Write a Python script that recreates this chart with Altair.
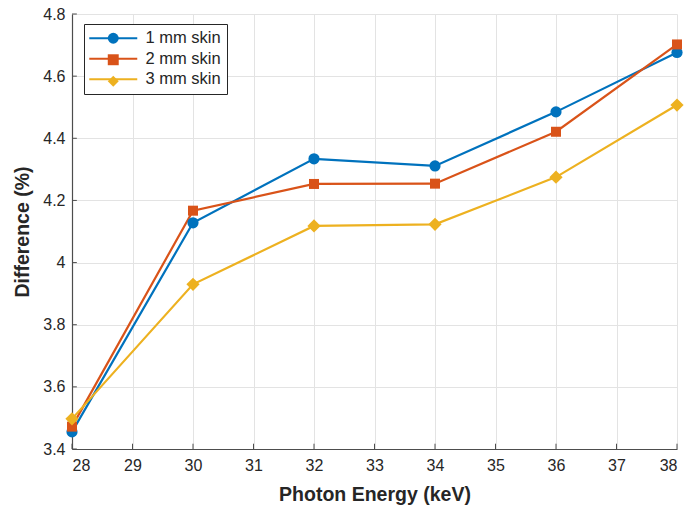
import altair as alt
import pandas as pd

energy = [28, 30, 32, 34, 36, 38]
skin1 = [3.455, 4.128, 4.334, 4.311, 4.485, 4.676]
skin2 = [3.472, 4.167, 4.253, 4.254, 4.421, 4.702]
skin3 = [3.497, 3.930, 4.118, 4.123, 4.275, 4.507]
series = ["1 mm skin", "2 mm skin", "3 mm skin"]
colors = ["#0072BD", "#D95319", "#EDB120"]
shapes = ["circle", "square", "diamond"]
marker_sizes = [125, 100, 175]
x_ticks = list(range(28, 39))
y_ticks = [3.4, 3.6, 3.8, 4.0, 4.2, 4.4, 4.6, 4.8]

rows = []
for name, vals, ms in zip(series, [skin1, skin2, skin3], marker_sizes):
    for e, v in zip(energy, vals):
        rows.append({"energy": e, "diff": v, "series": name, "series_pt": name, "msize": ms})
df = pd.DataFrame(rows)

FONT = "Liberation Sans"
xs = alt.Scale(domain=[28, 38], nice=False)
ys = alt.Scale(domain=[3.4, 4.8], nice=False)

x_enc = alt.X("energy:Q", scale=xs, title="Photon Energy (keV)",
              axis=alt.Axis(values=x_ticks, format="d", labelFontSize=16, titleFontSize=19.5,
                            titleFontWeight="bold", labelColor="#262626", titleColor="#262626",
                            domainColor="#4d4d4d", tickSize=0, labelPadding=8, titlePadding=12,
                            gridColor="#e3e3e3", labelFont=FONT, titleFont=FONT))
y_enc = alt.Y("diff:Q", scale=ys, title="Difference (%)",
              axis=alt.Axis(values=y_ticks, labelExpr="datum.value == 4 ? '4' : format(datum.value, '.1f')",
                            labelFontSize=16, titleFontSize=19.5, titleFontWeight="bold",
                            labelColor="#262626", titleColor="#262626", domainColor="#4d4d4d",
                            tickSize=0, labelPadding=7, titlePadding=10, gridColor="#e3e3e3",
                            labelFont=FONT, titleFont=FONT))

common = dict(title=None, orient="none", legendX=12, legendY=10, labelFontSize=16.5,
              labelFont=FONT, padding=6, rowPadding=3.5, labelOffset=24, symbolOffset=15)

lines = alt.Chart(df).mark_line(strokeWidth=2.2).encode(
    x=x_enc, y=y_enc,
    color=alt.Color("series:N", scale=alt.Scale(domain=series, range=colors),
                    legend=alt.Legend(symbolType="M-4.8,0H4.8", symbolSize=100, symbolStrokeWidth=2.2,
                                      labelColor="#262626", strokeColor="#262626",
                                      fillColor="white", **common)),
    detail="series:N",
)

pt_legend = alt.Legend(labelOpacity=0, symbolSize=120, symbolOpacity=1, **common)

points = alt.Chart(df).mark_point(filled=True, opacity=1).encode(
    x="energy:Q", y="diff:Q",
    fill=alt.Fill("series_pt:N", scale=alt.Scale(domain=series, range=colors), legend=pt_legend),
    shape=alt.Shape("series_pt:N", scale=alt.Scale(domain=series, range=shapes), legend=pt_legend),
    size=alt.Size("msize:Q", scale=None),
)

tick_x = pd.DataFrame({"t": x_ticks, "y0": [3.4] * len(x_ticks), "y1": [3.4 + 0.017] * len(x_ticks)})
tick_y = pd.DataFrame({"t": y_ticks, "x0": [28] * len(y_ticks), "x1": [28 + 0.08] * len(y_ticks)})
xticks = alt.Chart(tick_x).mark_rule(color="#4d4d4d", strokeWidth=1).encode(
    x=alt.X("t:Q", scale=xs), y=alt.Y("y0:Q", scale=ys), y2="y1:Q")
yticks = alt.Chart(tick_y).mark_rule(color="#4d4d4d", strokeWidth=1).encode(
    y=alt.Y("t:Q", scale=ys), x=alt.X("x0:Q", scale=xs), x2="x1:Q")

chart = alt.layer(lines, points, xticks, yticks).resolve_scale(
    color="independent", fill="independent", shape="independent"
).properties(
    width=605, height=435,
    autosize=alt.AutoSizeParams(type="none"),
    padding={"left": 72, "top": 14, "right": 11, "bottom": 59},
    background="white",
).configure_view(stroke=None).configure_axis(domainWidth=1.2)

chart.save("out.html", embed_options={"renderer": "svg", "actions": False})
